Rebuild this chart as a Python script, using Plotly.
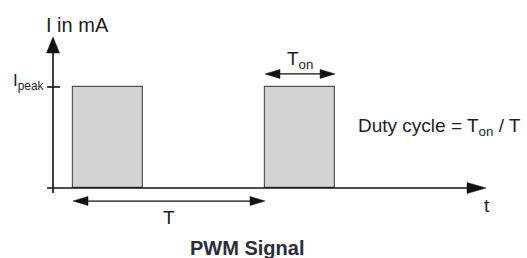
import plotly.graph_objects as go

# ---- data ----
pulse_starts = [0.0, 1.0]      # start of each pulse (in periods)
pulse_width = 0.365            # T_on (fraction of period)
period = 1.0                   # T
i_peak = 1.0                   # I_peak
y_label = "I in mA"
x_label = "t"
peak_label = "I<sub>peak</sub>"
title = "PWM Signal"

FONT = "Liberation Sans, Arial, sans-serif"
TXT = "#1e1e1e"
LINE = "#111111"

fig = go.Figure()

# pulses as bars
fig.add_trace(go.Bar(
    x=[s + pulse_width / 2 for s in pulse_starts],
    y=[i_peak] * len(pulse_starts),
    width=[pulse_width] * len(pulse_starts),
    marker=dict(color="#d3d3d3", line=dict(color="#555555", width=1.2)),
    hoverinfo="skip", showlegend=False,
))

x0_axis = -0.104
y_axis_top = 1.495
x_axis_end = 2.151
shapes = []
# y axis line
shapes.append(dict(type="line", xref="x", yref="y", x0=x0_axis, x1=x0_axis,
                   y0=-0.05, y1=y_axis_top - 0.1, line=dict(color=LINE, width=1.6)))
# x axis line
shapes.append(dict(type="line", xref="x", yref="y", x0=-0.135, x1=x_axis_end - 0.08,
                   y0=0, y1=0, line=dict(color=LINE, width=1.6)))
# I_peak tick
shapes.append(dict(type="line", xref="x", yref="y", x0=-0.135, x1=-0.067,
                   y0=i_peak, y1=i_peak, line=dict(color=LINE, width=1.6)))

def head(x, y, path):
    return dict(type="path", xref="x", yref="y", xsizemode="pixel", ysizemode="pixel",
                xanchor=x, yanchor=y, path=path, fillcolor=LINE,
                line=dict(color=LINE, width=0.5))

UP = "M0,0 L-6.5,-16 L6.5,-16 Z"
RIGHT_BIG = "M0,0 L-19,5.5 L-19,-5.5 Z"
RIGHT = "M0,0 L-15,4.5 L-15,-4.5 Z"
LEFT = "M0,0 L15,4.5 L15,-4.5 Z"

shapes.append(head(x0_axis, y_axis_top, UP))
shapes.append(head(x_axis_end, 0, RIGHT_BIG))

# T dimension arrow
yT = -0.129
shapes.append(dict(type="line", xref="x", yref="y", x0=pulse_starts[0] + 0.04,
                   x1=pulse_starts[0] + period - 0.04, y0=yT, y1=yT,
                   line=dict(color=LINE, width=1.3)))
shapes.append(head(pulse_starts[0], yT, LEFT))
shapes.append(head(pulse_starts[0] + period, yT, RIGHT))

# T_on dimension arrow
yTon = 1.129
s2 = pulse_starts[1]
shapes.append(dict(type="line", xref="x", yref="y", x0=s2 + 0.04,
                   x1=s2 + pulse_width - 0.04, y0=yTon, y1=yTon,
                   line=dict(color=LINE, width=1.3)))
shapes.append(head(s2, yTon, LEFT))
shapes.append(head(s2 + pulse_width, yTon, RIGHT))

fig.update_layout(shapes=shapes)

ann = []
def txt(x, y, text, size, xanchor="center", yanchor="middle", bold=False, color=TXT):
    if bold:
        text = "<b>" + text + "</b>"
    ann.append(dict(x=x, y=y, xref="x", yref="y", text=text, showarrow=False,
                    xanchor=xanchor, yanchor=yanchor,
                    font=dict(family=FONT, size=size, color=color)))

txt(0.026, 1.61, y_label, 20)
txt(-0.14, 1.05, peak_label, 17, xanchor="right")
txt(s2 + pulse_width / 2, 1.265, "T<sub>on</sub>", 19)
txt(1.475, 0.6, "Duty cycle = T<sub>on</sub> / T", 19, xanchor="left")
txt(pulse_starts[0] + period / 2, -0.29, "T", 19)
txt(2.155, -0.17, x_label, 19)
txt(0.905, -0.595, title, 20, bold=True, color="#2b2d38")
fig.update_layout(annotations=ann)

fig.update_layout(
    width=527, height=258,
    margin=dict(l=0, r=0, t=0, b=0),
    paper_bgcolor="white", plot_bgcolor="white",
    xaxis=dict(range=[-0.3802, 2.3646], visible=False, fixedrange=True),
    yaxis=dict(range=[-0.693, 1.861], visible=False, fixedrange=True),
    bargap=0,
)

fig.write_html("out.html", config={"displayModeBar": False},
               post_script="document.body.style.margin='0';document.body.style.overflow='hidden';")
